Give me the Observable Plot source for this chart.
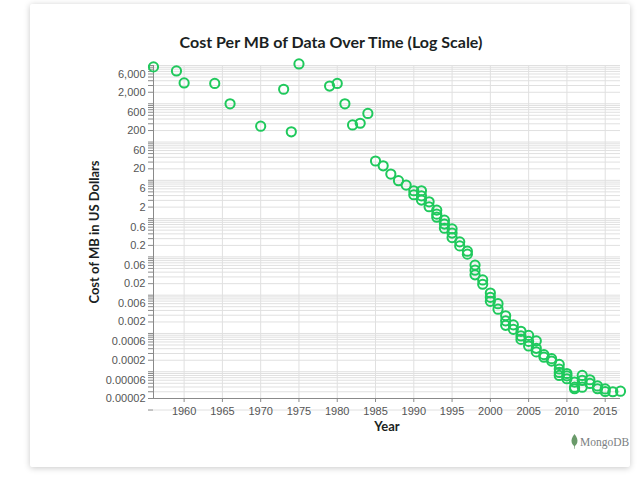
<!DOCTYPE html>
<html>
<head>
<meta charset="utf-8">
<script src="https://cdn.jsdelivr.net/npm/d3@7"></script>
<script src="https://cdn.jsdelivr.net/npm/@observablehq/plot@0.6"></script>
<style>
  html, body { margin: 0; padding: 0; background: #ffffff; }
  #wrap { position: relative; width: 640px; height: 481px; overflow: hidden; }
  #card {
    position: absolute; left: 30px; top: 4px; width: 600px; height: 463px;
    background: #fff; box-shadow: 0 1px 6px rgba(0,0,0,0.22); border-radius: 2px;
  }
  #chart { position: absolute; left: 0; top: 0; }
  #brand {
    position: absolute; left: 571px; top: 434px; display: flex; align-items: center;
    font-family: "Liberation Serif", "DejaVu Serif", serif; font-size: 11.5px; color: #7b7f83;
  }
  #brand svg { margin-right: 2px; }
</style>
</head>
<body>
<div id="wrap">
  <div id="card"></div>
  <div id="chart"></div>
  <div id="brand">
    <svg width="7" height="15" viewBox="0 0 7 15"><path d="M3.5 0 C6 3 7 6 6.3 8.6 C5.8 10.6 4.4 11.6 3.9 12 L3.7 15 L3.3 15 L3.1 12 C2.6 11.6 1.2 10.6 0.7 8.6 C0 6 1 3 3.5 0 Z" fill="#6a9a6a"/></svg>
    <span>MongoDB</span>
  </div>
</div>
<script>
// Cost per megabyte of storage by year (US dollars)
const years = [
  1956, 1959, 1960, 1964, 1966, 1970, 1973, 1974, 1975, 1979, 1980, 1981, 1982, 1983, 1984,
  1985, 1986, 1987, 1988, 1989,
  1990, 1990,
  1991, 1991, 1991,
  1992, 1992,
  1993, 1993, 1993,
  1994, 1994, 1994,
  1995, 1995, 1995,
  1996, 1996,
  1997, 1997,
  1998, 1998, 1998,
  1999, 1999,
  2000, 2000, 2000,
  2001, 2001,
  2002, 2002, 2002,
  2003, 2003,
  2004, 2004, 2004,
  2005, 2005, 2005,
  2006, 2006, 2006,
  2007, 2007,
  2008, 2008,
  2009, 2009, 2009, 2009,
  2010, 2010, 2010,
  2011, 2011, 2011,
  2012, 2012, 2012,
  2013, 2013,
  2014, 2014,
  2015, 2015,
  2016, 2017
];
const costs = [
  9200, 7200, 3500, 3400, 1000, 260, 2400, 185, 11000, 2900, 3400, 1000, 280, 310, 560,
  32, 24, 14.6, 9.8, 7.5,
  5.35, 4.2,
  5.35, 3.95, 3.05,
  2.75, 2.04,
  1.67, 1.31, 1.09,
  0.91, 0.72, 0.56,
  0.54, 0.42, 0.32,
  0.247, 0.194,
  0.141, 0.118,
  0.061, 0.045, 0.034,
  0.025, 0.0193,
  0.0114, 0.0088, 0.0069,
  0.006, 0.0043,
  0.0029, 0.00214, 0.00163,
  0.00168, 0.00128,
  0.00114, 0.00086, 0.0007,
  0.00089, 0.00062, 0.00047,
  0.00064, 0.00041, 0.00033,
  0.00028, 0.00024,
  0.00022, 0.00019,
  0.000155, 0.000118, 0.000096, 0.00008,
  0.00009, 0.000078, 0.0000656,
  0.0000535, 0.0000395, 0.000036,
  0.00008, 0.0000592, 0.0000395,
  0.0000618, 0.0000494,
  0.0000425, 0.0000359,
  0.0000355, 0.0000305,
  0.00003, 0.000031
];

// Axis settings
const xDomain = [1956, 2017];
const yDomain = [0.00002, 10000];
const yearTicks = [1960, 1965, 1970, 1975, 1980, 1985, 1990, 1995, 2000, 2005, 2010, 2015];
const decades = [-5, -4, -3, -2, -1, 0, 1, 2, 3];
const labeledMultiples = [2, 6];

const titleText = "Cost Per MB of Data Over Time (Log Scale)";
const xTitle = "Year";
const yTitle = "Cost of MB in US Dollars";

const points = years.map((year, i) => ({year, cost: costs[i]}));

// Grid values at 1..9 x 10^n, plus the top of the range
const gridValues = [];
for (const n of decades) for (let k = 1; k <= 9; k++) gridValues.push(+(k + "e" + n));
gridValues.push(10000);
const labeledValues = [];
for (const n of decades) for (const k of labeledMultiples) labeledValues.push(+(k + "e" + n));

const fmt = d => d >= 1 ? d3.format(",")(d) : String(d);

const green = "#1fc95c";
const gridColor = "#e0e0e0";
const axisColor = "#8a8a8a";
const tickTextColor = "#555";
const labelFont = "'Liberation Sans', Arial, sans-serif";
const titleFont = "Lato, 'Open Sans', sans-serif";

const chart = Plot.plot({
  width: 640,
  height: 481,
  marginLeft: 153,
  marginRight: 20,
  marginTop: 65,
  marginBottom: 83,
  style: {background: "transparent", fontFamily: labelFont, fontSize: "11px", color: tickTextColor},
  x: {domain: xDomain},
  y: {type: "log", domain: yDomain},
  marks: [
    Plot.ruleY(gridValues, {stroke: gridColor, strokeWidth: 1}),
    Plot.ruleX(yearTicks, {stroke: gridColor, strokeWidth: 1}),
    // tick marks for every grid value
    Plot.axisY(gridValues, {tickFormat: () => "", tickSize: 5, stroke: axisColor, label: null}),
    // labels at 2 and 6 x 10^n
    Plot.text(labeledValues, {
      y: d => d, text: fmt, frameAnchor: "left", textAnchor: "end", dx: -8,
      fontSize: 11, fontFamily: labelFont, fill: tickTextColor
    }),
    Plot.axisX(yearTicks, {
      tickFormat: d => String(d), tickSize: 4, tickPadding: 5,
      stroke: axisColor, fill: tickTextColor, label: null
    }),
    Plot.ruleX([xDomain[0]], {stroke: axisColor}),
    Plot.ruleY([yDomain[0]], {stroke: axisColor}),
    Plot.dot(points, {
      x: "year", y: "cost", r: 4.6, stroke: green, strokeWidth: 2, fill: "none"
    }),
    Plot.text([titleText], {
      text: d => d, frameAnchor: "top", textAnchor: "middle", lineAnchor: "middle",
      dx: -56, dy: -23,
      fontSize: 16, fontWeight: "bold", fontFamily: titleFont, fill: "#1b1f23"
    }),
    Plot.text([xTitle], {
      text: d => d, frameAnchor: "bottom", textAnchor: "middle", lineAnchor: "middle", dy: 28,
      fontSize: 13, fontWeight: "bold", fontFamily: titleFont, fill: "#1b1f23"
    }),
    Plot.text([yTitle], {
      text: d => d, frameAnchor: "left", textAnchor: "middle", lineAnchor: "middle",
      dx: -59, rotate: -90,
      fontSize: 13, fontWeight: "bold", fontFamily: titleFont, fill: "#1b1f23"
    })
  ]
});

document.getElementById("chart").appendChild(chart);
</script>
</body>
</html>
